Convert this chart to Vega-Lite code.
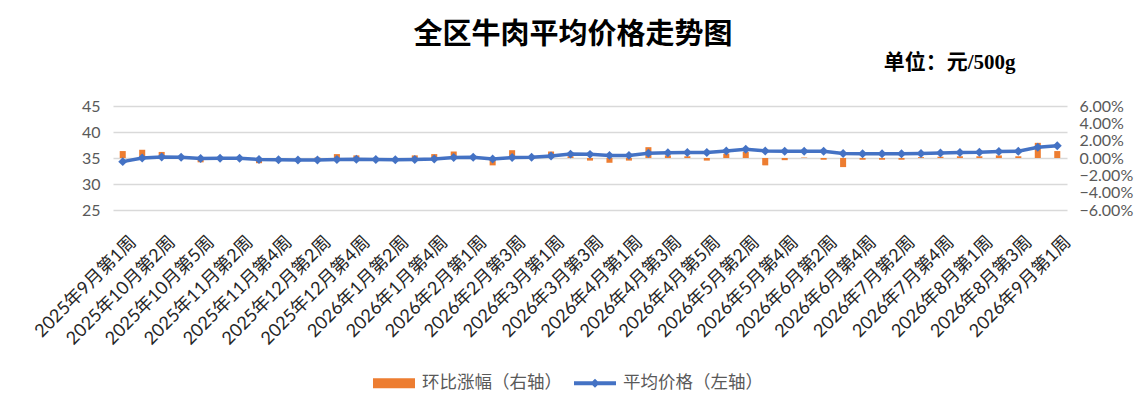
{
  "$schema": "https://vega.github.io/schema/vega-lite/v6.json",
  "autosize": "none",
  "width": 954,
  "height": 104,
  "padding": {"left": 113, "top": 106, "right": 81, "bottom": 195},
  "background": "white",
  "title": {
    "text": "全区牛肉平均价格走势图",
    "font": "Liberation Serif, Noto Sans CJK SC",
    "fontSize": 29,
    "fontWeight": "bold",
    "color": "#000000",
    "anchor": "middle",
    "dx": -17,
    "offset": 1
  },
  "config": {
    "font": "Lato, Noto Sans CJK SC",
    "view": {"stroke": null}
  },
  "data": {
    "values": [
      {"week": "2025年9月第1周", "price": 34.3, "change": 0.008},
      {"week": "2025年10月第1周", "price": 35.0, "change": 0.0095},
      {"week": "2025年10月第2周", "price": 35.2, "change": 0.007},
      {"week": "2025年10月第4周", "price": 35.15, "change": 0.001},
      {"week": "2025年10月第5周", "price": 34.9, "change": -0.005},
      {"week": "2025年11月第1周", "price": 34.95, "change": 0.0005},
      {"week": "2025年11月第2周", "price": 34.95, "change": 0.0005},
      {"week": "2025年11月第3周", "price": 34.7, "change": -0.006},
      {"week": "2025年11月第4周", "price": 34.65, "change": -0.001},
      {"week": "2025年12月第1周", "price": 34.6, "change": -0.0005},
      {"week": "2025年12月第2周", "price": 34.6, "change": 0.0005},
      {"week": "2025年12月第3周", "price": 34.7, "change": 0.0045},
      {"week": "2025年12月第4周", "price": 34.75, "change": 0.003},
      {"week": "2026年1月第1周", "price": 34.7, "change": -0.0005},
      {"week": "2026年1月第2周", "price": 34.65, "change": -0.0005},
      {"week": "2026年1月第3周", "price": 34.7, "change": 0.003},
      {"week": "2026年1月第4周", "price": 34.8, "change": 0.0045},
      {"week": "2026年1月第5周", "price": 35.1, "change": 0.0075},
      {"week": "2026年2月第1周", "price": 35.15, "change": 0.001},
      {"week": "2026年2月第2周", "price": 34.8, "change": -0.0085},
      {"week": "2026年2月第3周", "price": 35.1, "change": 0.009},
      {"week": "2026年2月第4周", "price": 35.15, "change": 0.001},
      {"week": "2026年3月第1周", "price": 35.4, "change": 0.0075},
      {"week": "2026年3月第2周", "price": 35.75, "change": 0.002},
      {"week": "2026年3月第3周", "price": 35.7, "change": -0.003},
      {"week": "2026年3月第4周", "price": 35.5, "change": -0.0055},
      {"week": "2026年4月第1周", "price": 35.5, "change": -0.003},
      {"week": "2026年4月第2周", "price": 35.9, "change": 0.0125},
      {"week": "2026年4月第3周", "price": 36.0, "change": 0.003},
      {"week": "2026年4月第4周", "price": 36.05, "change": 0.002},
      {"week": "2026年4月第5周", "price": 36.05, "change": -0.003},
      {"week": "2026年5月第1周", "price": 36.35, "change": 0.005},
      {"week": "2026年5月第2周", "price": 36.7, "change": 0.007},
      {"week": "2026年5月第3周", "price": 36.35, "change": -0.0085},
      {"week": "2026年5月第4周", "price": 36.3, "change": -0.0025},
      {"week": "2026年6月第1周", "price": 36.3, "change": 0.0005},
      {"week": "2026年6月第2周", "price": 36.3, "change": -0.002},
      {"week": "2026年6月第3周", "price": 35.85, "change": -0.0105},
      {"week": "2026年6月第4周", "price": 35.8, "change": -0.002},
      {"week": "2026年7月第1周", "price": 35.8, "change": -0.002},
      {"week": "2026年7月第2周", "price": 35.8, "change": -0.002},
      {"week": "2026年7月第3周", "price": 35.85, "change": 0.001},
      {"week": "2026年7月第4周", "price": 35.95, "change": 0.0015},
      {"week": "2026年7月第5周", "price": 36.05, "change": 0.002},
      {"week": "2026年8月第1周", "price": 36.1, "change": 0.002},
      {"week": "2026年8月第2周", "price": 36.25, "change": 0.003},
      {"week": "2026年8月第3周", "price": 36.3, "change": 0.002},
      {"week": "2026年8月第4周", "price": 37.05, "change": 0.0175},
      {"week": "2026年9月第1周", "price": 37.35, "change": 0.008}
    ]
  },
  "encoding": {
    "x": {
      "field": "week",
      "type": "ordinal",
      "sort": null,
      "scale": {"paddingInner": 0, "paddingOuter": 0},
      "axis": {
        "values": [
          "2025年9月第1周", "2025年10月第2周", "2025年10月第5周", "2025年11月第2周",
          "2025年11月第4周", "2025年12月第2周", "2025年12月第4周", "2026年1月第2周",
          "2026年1月第4周", "2026年2月第1周", "2026年2月第3周", "2026年3月第1周",
          "2026年3月第3周", "2026年4月第1周", "2026年4月第3周", "2026年4月第5周",
          "2026年5月第2周", "2026年5月第4周", "2026年6月第2周", "2026年6月第4周",
          "2026年7月第2周", "2026年7月第4周", "2026年8月第1周", "2026年8月第3周",
          "2026年9月第1周"
        ],
        "labelAngle": -45,
        "labelAlign": "right",
        "labelBaseline": "middle",
        "labelFontSize": 18,
        "labelColor": "#262626",
        "labelPadding": 29,
        "labelOffset": 11,
        "labelOverlap": false,
        "ticks": false,
        "domain": false,
        "grid": false,
        "title": null
      }
    }
  },
  "layer": [
    {
      "mark": {"type": "bar", "width": {"band": 0.31}},
      "encoding": {
        "y": {
          "field": "change",
          "type": "quantitative",
          "scale": {"domain": [-0.06, 0.06], "nice": false, "zero": false},
          "axis": {
            "orient": "right",
            "format": ".2%",
            "values": [-0.06, -0.04, -0.02, 0, 0.02, 0.04, 0.06],
            "grid": false,
            "ticks": false,
            "domain": false,
            "labelColor": "#595959",
            "labelFontSize": 16,
            "labelPadding": 12,
            "title": null
          }
        },
        "color": {
          "datum": "环比涨幅（右轴）",
          "scale": {
            "domain": ["环比涨幅（右轴）", "平均价格（左轴）"],
            "range": ["#ED7D31", "#4472C4"]
          },
          "legend": {
            "orient": "none",
            "legendX": 260,
            "legendY": 256,
            "direction": "horizontal",
            "title": null,
            "padding": 0,
            "symbolSize": 1764,
            "labelFont": "Noto Sans CJK SC",
            "labelFontSize": 17.5,
            "labelColor": "#595959",
            "labelOffset": 7,
            "columnPadding": 12,
            "encode": {
              "symbols": {
                "update": {
                  "shape": {"signal": "datum.value === '环比涨幅（右轴）' ? 'M-1,-0.24L1,-0.24L1,0.24L-1,0.24Z' : 'M-1,-0.09L1,-0.09L1,0.09L-1,0.09Z M0,-0.22L0.22,0L0,0.22L-0.22,0Z'"},
                  "fill": {"scale": "color", "field": "value"},
                  "strokeWidth": {"value": 0},
                  "opacity": {"value": 1}
                }
              }
            }
          }
        }
      }
    },
    {
      "mark": {
        "type": "line",
        "strokeWidth": 3.5,
        "point": {"shape": "diamond", "size": 80, "filled": true}
      },
      "encoding": {
        "y": {
          "field": "price",
          "type": "quantitative",
          "scale": {"domain": [25, 45], "nice": false, "zero": false},
          "axis": {
            "orient": "left",
            "values": [25, 30, 35, 40, 45],
            "grid": true,
            "gridColor": "#D9D9D9",
            "gridWidth": 1.3,
            "ticks": false,
            "domain": false,
            "labelColor": "#595959",
            "labelFontSize": 16,
            "labelPadding": 13,
            "title": "单位：元/500g",
            "titleAngle": 0,
            "titleX": 902,
            "titleY": -44,
            "titleAlign": "right",
            "titleBaseline": "middle",
            "titleFont": "Liberation Serif, Noto Sans CJK SC",
            "titleFontSize": 21,
            "titleFontWeight": "bold",
            "titleColor": "#000000"
          }
        },
        "color": {"datum": "平均价格（左轴）"}
      }
    }
  ],
  "resolve": {"scale": {"y": "independent"}}
}
